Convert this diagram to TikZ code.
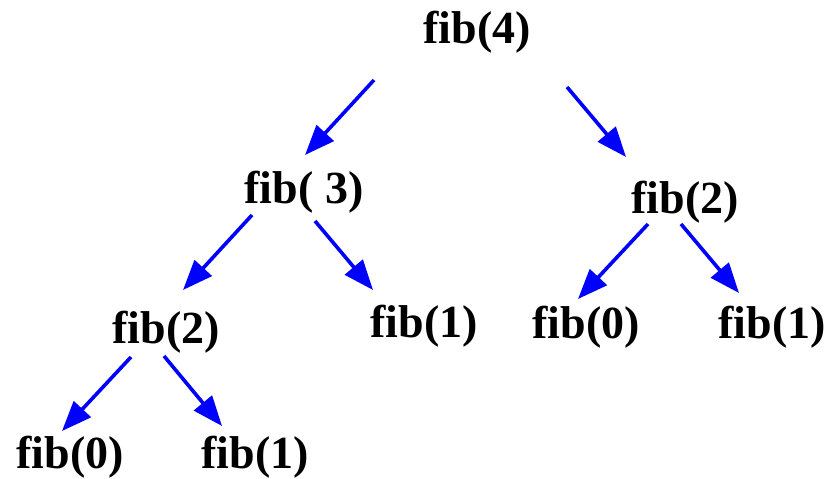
\documentclass[tikz,border=0pt]{standalone}
\usepackage{fontspec}
\setmainfont{Liberation Serif}
\usetikzlibrary{arrows.meta}

\begin{document}
\begin{tikzpicture}[
  x=0.5pt, y=-0.5pt,
  every node/.style={font=\fontsize{23}{27}\selectfont\bfseries},
  call/.style={anchor=base,inner sep=0pt},
  arr/.style={-{Triangle[length=15pt,width=11.5pt]},line width=1.8pt,blue},
]
  \useasboundingbox (0,0) rectangle (833,478);

  % calls
  \node[call] (f4)  at (477, 43)  {fib(4)};
  \node[call] (f3)  at (304, 203) {fib( 3)};
  \node[call] (f2r) at (685, 213) {fib(2)};
  \node[call] (f2l) at (166, 343) {fib(2)};
  \node[call] (f1m) at (424, 337) {fib(1)};
  \node[call] (f0r) at (586, 338) {fib(0)};
  \node[call] (f1r) at (772, 338) {fib(1)};
  \node[call] (f0b) at (70,  468) {fib(0)};
  \node[call] (f1b) at (255, 468) {fib(1)};

  % recursion
  \draw[arr] ([shift={(-103,37)}]f4.base) -- ([shift={(1,-48)}]f3.base);
  \draw[arr] ([shift={(90,44)}]f4.base)   -- ([shift={(-59,-56)}]f2r.base);
  \draw[arr] ([shift={(-52,12)}]f3.base)  -- ([shift={(17,-53)}]f2l.base);
  \draw[arr] ([shift={(11,18)}]f3.base)   -- ([shift={(-51,-47)}]f1m.base);
  \draw[arr] ([shift={(-37,11)}]f2r.base) -- ([shift={(-8,-39)}]f0r.base);
  \draw[arr] ([shift={(-4,11)}]f2r.base)  -- ([shift={(-33,-45)}]f1r.base);
  \draw[arr] ([shift={(-35,14)}]f2l.base) -- ([shift={(-8,-37)}]f0b.base);
  \draw[arr] ([shift={(-2,13)}]f2l.base)  -- ([shift={(-33,-42)}]f1b.base);
\end{tikzpicture}
\end{document}
